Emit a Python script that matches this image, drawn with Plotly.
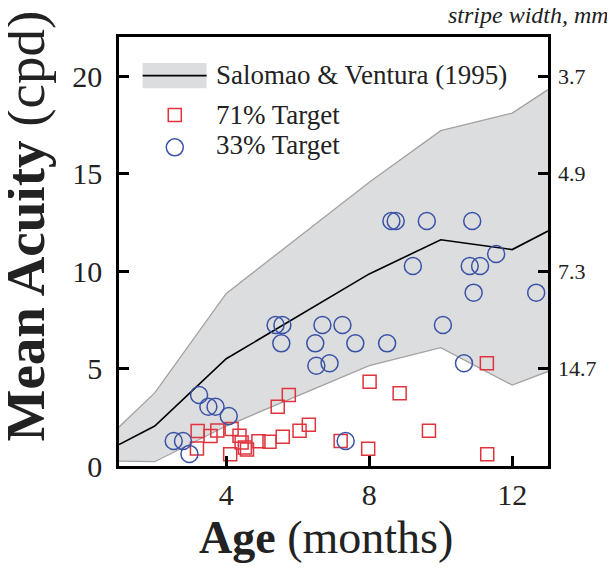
import plotly.graph_objects as go

# Salomao & Ventura (1995) norms
band_age = [1, 2, 4, 8, 10, 12, 13]
band_mean = [1.1, 2.05, 5.5, 9.85, 11.6, 11.1, 12.05]
band_upper = [2.0, 3.75, 8.85, 14.55, 17.2, 18.1, 19.3]
band_lower = [0.25, 0.22, 2.05, 5.15, 6.07, 4.15, 4.85]

# 71% target (squares)
t71_age = [3.2, 3.18, 3.56, 3.75, 4.15, 4.11, 4.37, 4.43, 4.52, 4.58,
           4.9, 5.21, 5.58, 6.05, 6.31, 5.44, 5.75, 7.2, 7.97, 8.01,
           8.85, 9.67, 11.29, 11.3]
t71_acuity = [1.8, 0.9, 1.54, 1.82, 1.9, 0.6, 1.55, 1.2, 0.95, 0.85,
              1.27, 1.25, 1.5, 1.81, 2.12, 3.04, 3.64, 1.28, 0.88, 4.32,
              3.73, 1.81, 5.27, 0.6]

# 33% target (circles)
t33_age = [8.62, 8.74, 9.61, 10.88, 11.55, 9.22, 10.81, 11.1, 10.92, 12.67,
           5.38, 5.57, 6.69, 7.25, 10.06, 5.54, 6.49, 7.61, 8.5, 6.52,
           6.89, 10.65, 3.24, 3.5, 3.7, 4.07, 2.53, 2.79, 2.97, 7.34]
t33_acuity = [12.56, 12.56, 12.56, 12.56, 10.87, 10.26, 10.26, 10.26, 8.89, 8.89,
              7.23, 7.23, 7.23, 7.23, 7.23, 6.29, 6.29, 6.29, 6.29, 5.14,
              5.27, 5.27, 3.64, 3.04, 3.04, 2.56, 1.28, 1.28, 0.62, 1.28]

left_ticks = [0, 5, 10, 15, 20]
right_ticks = [5, 10, 15, 20]
right_labels = ["14.7", "7.3", "4.9", "3.7"]
x_ticks = [4, 8, 12]

FONT = "Liberation Serif"
RED = "#e0333c"
BLUE = "#3a52a6"
FILL = "#dcdddf"
EDGE = "#a2a2a2"

fig = go.Figure()
fig.add_trace(go.Scatter(x=band_age, y=band_lower, mode="lines",
                         line=dict(color=EDGE, width=1.3), showlegend=False, hoverinfo="skip"))
fig.add_trace(go.Scatter(x=band_age, y=band_upper, mode="lines", fill="tonexty",
                         fillcolor=FILL, line=dict(color=EDGE, width=1.3),
                         showlegend=False, hoverinfo="skip"))
fig.add_trace(go.Scatter(x=band_age, y=band_mean, mode="lines",
                         line=dict(color="black", width=1.6), showlegend=False))
fig.add_trace(go.Scatter(x=t71_age, y=t71_acuity, mode="markers",
                         marker=dict(symbol="square-open", size=13, color=RED,
                                     line=dict(width=1.5)), showlegend=False))
fig.add_trace(go.Scatter(x=t33_age, y=t33_acuity, mode="markers",
                         marker=dict(symbol="circle-open", size=17, color=BLUE,
                                     line=dict(width=1.5)), showlegend=False))
# invisible trace to attach the right-hand axis
fig.add_trace(go.Scatter(x=band_age, y=band_mean, yaxis="y2", mode="lines",
                         line=dict(width=0), opacity=0, showlegend=False, hoverinfo="skip"))

axis_common = dict(showgrid=False, zeroline=False, showline=True, linecolor="black",
                   linewidth=2.5, ticks="inside", ticklen=10, tickwidth=2.5,
                   tickcolor="black")

# the page body adds an 8px offset, so the figure is sized to fit the window
fig.update_layout(
    width=607, height=561,
    margin=dict(l=111, r=67, t=29, b=103),
    paper_bgcolor="white", plot_bgcolor="white",
    font=dict(family=FONT, color="#222222"),
    showlegend=False,
    xaxis=dict(range=[1, 13], tickvals=x_ticks, mirror=True,
               tickfont=dict(size=30), ticklabelstandoff=0, **axis_common),
    yaxis=dict(range=[0, 22], tickvals=left_ticks, mirror=True,
               tickfont=dict(size=30), ticklabelstandoff=8, **axis_common),
    yaxis2=dict(range=[0, 22], overlaying="y", side="right", tickvals=right_ticks,
                ticktext=right_labels, showgrid=False, zeroline=False, showline=False,
                ticks="inside", ticklen=10, tickwidth=2.5, tickcolor="black",
                tickfont=dict(size=22), ticklabelstandoff=9),
)

# manual legend
shapes = [
    dict(type="rect", xref="x", yref="y", x0=1.66, x1=3.45, y0=19.37, y1=20.67,
         fillcolor=FILL, line=dict(width=0), layer="above"),
    dict(type="line", xref="x", yref="y", x0=1.66, x1=3.45, y0=20.02, y1=20.02,
         line=dict(color="black", width=1.6), layer="above"),
    dict(type="rect", xref="x", yref="y", xsizemode="pixel", ysizemode="pixel",
         xanchor=2.56, yanchor=18.0, x0=-6.5, x1=6.5, y0=-6.5, y1=6.5,
         line=dict(color=RED, width=1.5), layer="above"),
    dict(type="circle", xref="x", yref="y", xsizemode="pixel", ysizemode="pixel",
         xanchor=2.56, yanchor=16.34, x0=-8.5, x1=8.5, y0=-8.5, y1=8.5,
         line=dict(color=BLUE, width=1.5), layer="above"),
]
fig.update_layout(shapes=shapes)

ann = [
    dict(x=3.65, y=20.05, xref="x", yref="y", text="Salomao &amp; Ventura (1995)",
         xanchor="left", yanchor="middle", showarrow=False, font=dict(size=27)),
    dict(x=3.65, y=18.0, xref="x", yref="y", text="71% Target",
         xanchor="left", yanchor="middle", showarrow=False, font=dict(size=27)),
    dict(x=3.65, y=16.45, xref="x", yref="y", text="33% Target",
         xanchor="left", yanchor="middle", showarrow=False, font=dict(size=27)),
    dict(x=1.0, y=1.0, xref="paper", yref="paper", text="<i>stripe width, mm</i>",
         xanchor="right", yanchor="middle", xshift=63, yshift=22, showarrow=False,
         font=dict(size=24)),
    dict(x=0.483, y=0, xref="paper", yref="paper", text="<b>Age</b> (months)",
         xanchor="center", yanchor="top", yshift=-44, showarrow=False,
         font=dict(size=46)),
    dict(x=0, y=0.5, xref="paper", yref="paper", text="<b>Mean Acuity</b> (cpd)",
         textangle=-90, xanchor="center", yanchor="middle", xshift=-94, yshift=25,
         showarrow=False, font=dict(size=55)),
]
fig.update_layout(annotations=ann)

fig.write_html("out.html")
